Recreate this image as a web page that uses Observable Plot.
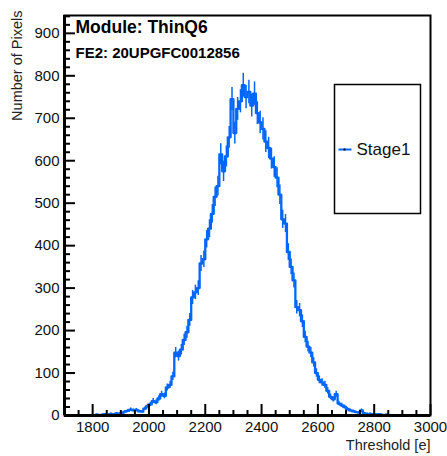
<!DOCTYPE html>
<html>
<head>
<meta charset="utf-8">
<script src="https://cdn.jsdelivr.net/npm/d3@7"></script>
<script src="https://cdn.jsdelivr.net/npm/@observablehq/plot@0.6"></script>
<style>
  html, body { margin: 0; padding: 0; background: #fff; }
  #chart svg { display: block; }
</style>
</head>
<body>
<div id="chart"></div>
<script>
// ---- data ----
const binStart = 1760;   // lower edge of the first bin
const binWidth = 10;     // threshold units per bin
const counts = [
  0, 1, 0, 1, 1, 2, 1, 2, 3, 2,          // 1760-1850
  4, 3, 5, 4, 6, 9, 11, 14, 12, 13,      // 1860-1950
  10, 9, 16, 22, 26, 34, 31, 40, 50, 46, // 1960-2050
  66, 72, 92, 148, 140, 155, 178, 196, 225, 278, // 2060-2150
  290, 300, 358, 368, 415, 440, 475, 515, 540, 615, // 2160-2250
  575, 610, 655, 745, 665, 722, 740, 778, 750, 762, // 2260-2350
  730, 758, 712, 690, 675, 645, 630, 605, 585, 560, // 2360-2450
  520, 462, 452, 385, 350, 318, 255, 248, 222, 185, // 2460-2550
  162, 148, 125, 100, 84, 78, 72, 58, 44, 38,       // 2560-2650
  50, 28, 24, 20, 15, 12, 10, 8, 7, 12,             // 2660-2750
  5, 4, 4, 3, 2, 3, 2, 1, 2, 1, 0                   // 2760-2860
];
const xTicks = [1800, 2000, 2200, 2400, 2600, 2800, 3000];
const yTicks = [0, 100, 200, 300, 400, 500, 600, 700, 800, 900];
const xDomain = [1700, 3000];
const yDomain = [0, 942];
const title = "Module: ThinQ6";
const subtitle = "FE2: 20UPGFC0012856";
const xLabel = "Threshold [e]";
const yLabel = "Number of Pixels";
const seriesName = "Stage1";

const bins = counts.map((n, i) => ({x: binStart + (i + 0.5) * binWidth, n}));
const xMinor = d3.range(1750, 3000, 50);
const yMinor = d3.range(20, 942, 20);

const W = 447, H = 456;
const mL = 64, mR = 17, mT = 15, mB = 41;
const fw = W - mL - mR, fh = H - mT - mB;
const blue = "#0066ff";
const font = "'Liberation Sans', Arial, Helvetica, sans-serif";

const chart = Plot.plot({
  width: W, height: H,
  marginLeft: mL, marginRight: mR, marginTop: mT, marginBottom: mB,
  style: {fontFamily: font, background: "#fff", color: "#000"},
  x: {domain: xDomain},
  y: {domain: yDomain},
  marks: [
    // histogram: error bars + step line
    Plot.ruleX(bins, {x: "x", y1: d => d.n - Math.sqrt(d.n), y2: d => d.n + Math.sqrt(d.n), stroke: blue, strokeWidth: 1.5}),
    Plot.line(bins, {x: "x", y: "n", curve: "step", stroke: blue, strokeWidth: 2.3}),
    // inward ticks
    Plot.tickX(xTicks, {x: d => d, insetTop: fh - 11, stroke: "#000", strokeWidth: 2}),
    Plot.tickX(xMinor.filter(v => !xTicks.includes(v)), {x: d => d, insetTop: fh - 5, stroke: "#000", strokeWidth: 2}),
    Plot.tickY(yTicks, {y: d => d, insetRight: fw - 11, stroke: "#000", strokeWidth: 2}),
    Plot.tickY(yMinor.filter(v => !yTicks.includes(v)), {y: d => d, insetRight: fw - 6, stroke: "#000", strokeWidth: 2}),
    // tick labels
    Plot.axisX({ticks: xTicks, tickSize: 0, tickPadding: 6, tickFormat: d => String(d), fontSize: 15, label: null, fill: "#111"}),
    Plot.axisY({ticks: yTicks, tickSize: 0, tickPadding: 5, tickFormat: d => String(d), fontSize: 15, label: null, fill: "#111"}),
    // frame
    Plot.frame({stroke: "#000", strokeWidth: 2}),
    Plot.ruleY([0], {stroke: "#000", strokeWidth: 3}),
    Plot.ruleX([xDomain[0]], {stroke: "#000", strokeWidth: 3}),
    // axis titles
    Plot.text([xLabel], {text: d => d, frameAnchor: "bottom-right", lineAnchor: "middle", textAnchor: "end", dy: 30, fontSize: 14.5, fill: "#222"}),
    Plot.text([yLabel], {text: d => d, frameAnchor: "top-left", lineAnchor: "middle", textAnchor: "end", rotate: -90, dx: 17 - mL, dy: 10 - mT, fontSize: 14.5, fill: "#222"}),
    // titles
    Plot.text([title], {text: d => d, frameAnchor: "top-left", lineAnchor: "middle", textAnchor: "start", dx: 11, dy: 12, fontSize: 17.5, fontWeight: "bold"}),
    Plot.text([subtitle], {text: d => d, frameAnchor: "top-left", lineAnchor: "middle", textAnchor: "start", dx: 11, dy: 38, fontSize: 15, fontWeight: "bold"}),
    // legend
    Plot.frame({fill: "#fff", stroke: "#000", strokeWidth: 1.5, insetLeft: 334 - mL, insetTop: 84 - mT, insetRight: mL + fw - 420, insetBottom: mT + fh - 213}),
    Plot.frame({fill: blue, stroke: null, insetLeft: 338 - mL, insetTop: 148 - mT, insetRight: mL + fw - 351, insetBottom: mT + fh - 150}),
    Plot.frame({fill: "#113", stroke: null, insetLeft: 343 - mL, insetTop: 148 - mT, insetRight: mL + fw - 345, insetBottom: mT + fh - 150}),
    Plot.text([seriesName], {text: d => d, frameAnchor: "top-left", lineAnchor: "middle", textAnchor: "start", dx: 356 - mL, dy: 149 - mT, fontSize: 17, fill: "#111"})
  ]
});
document.getElementById("chart").appendChild(chart);
</script>
</body>
</html>
